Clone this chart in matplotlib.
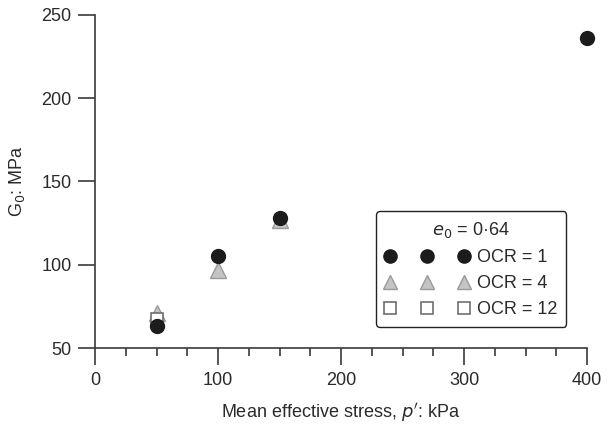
import matplotlib
matplotlib.use("Agg")
import matplotlib.pyplot as plt
from matplotlib.ticker import MultipleLocator

plt.rcParams['font.family'] = ['Liberation Sans', 'DejaVu Sans']

# Data
ocr1_p = [50, 100, 150, 400]
ocr1_g = [63, 105.5, 128, 236]
ocr4_p = [50, 100, 150]
ocr4_g = [71, 97, 127]
ocr12_p = [50]
ocr12_g = [67.5]

xticks = [0, 100, 200, 300, 400]
yticks = [50, 100, 150, 200, 250]

TXT = '#2a2a2a'
FS = 13

fig = plt.figure(figsize=(6.09, 4.25), dpi=100)
ax = fig.add_axes([0.156, 0.181, 0.808, 0.784])

ax.plot(ocr4_p, ocr4_g, linestyle='none', marker='^', markersize=11,
        markerfacecolor='#c4c4c4', markeredgecolor='#9a9a9a', markeredgewidth=1.0,
        zorder=3, label='OCR = 4', clip_on=False)
ax.plot(ocr12_p, ocr12_g, linestyle='none', marker='s', markersize=9,
        markerfacecolor='white', markeredgecolor='#6e6e6e', markeredgewidth=1.2,
        zorder=4, label='OCR = 12', clip_on=False)
ax.plot(ocr1_p, ocr1_g, linestyle='none', marker='o', markersize=10,
        markerfacecolor='#1c1c1c', markeredgecolor='#1c1c1c',
        zorder=5, label='OCR = 1', clip_on=False)

ax.set_xlim(0, 400)
ax.set_ylim(50, 250)
ax.set_xticks(xticks)
ax.set_yticks(yticks)
ax.xaxis.set_minor_locator(MultipleLocator(25))

for s in ['top', 'right']:
    ax.spines[s].set_visible(False)
for s in ['left', 'bottom']:
    ax.spines[s].set_color('#3a3a3a')
    ax.spines[s].set_linewidth(1.2)

ax.tick_params(axis='both', which='major', direction='out', length=12, width=1.2,
               color='#3a3a3a', labelsize=FS, labelcolor=TXT, pad=5)
ax.tick_params(axis='x', which='minor', direction='out', length=6, width=1.2,
               color='#3a3a3a')

ax.set_xlabel("Mean effective stress, $\\it{p'}$: kPa", fontsize=FS, color=TXT, labelpad=9)
ax.set_ylabel("G$_0$: MPa", fontsize=FS, color=TXT, labelpad=10)

handles, labels = ax.get_legend_handles_labels()
order = [2, 0, 1]
leg = ax.legend([handles[i] for i in order], [labels[i] for i in order],
                numpoints=3, loc='lower right', bbox_to_anchor=(0.958, 0.063),
                title="$\\it{e}_0$ = 0·64", title_fontsize=FS, fontsize=FS,
                frameon=True, fancybox=True, handlelength=4.7, handletextpad=0.4,
                borderpad=0.5, labelspacing=0.5, markerscale=0.95, borderaxespad=0)
leg.get_frame().set_edgecolor('#222222')
leg.get_frame().set_linewidth(1.0)
leg.get_frame().set_alpha(1)
for t in leg.get_texts():
    t.set_color(TXT)
leg.get_title().set_color(TXT)

fig.savefig('out.png', dpi=100)
